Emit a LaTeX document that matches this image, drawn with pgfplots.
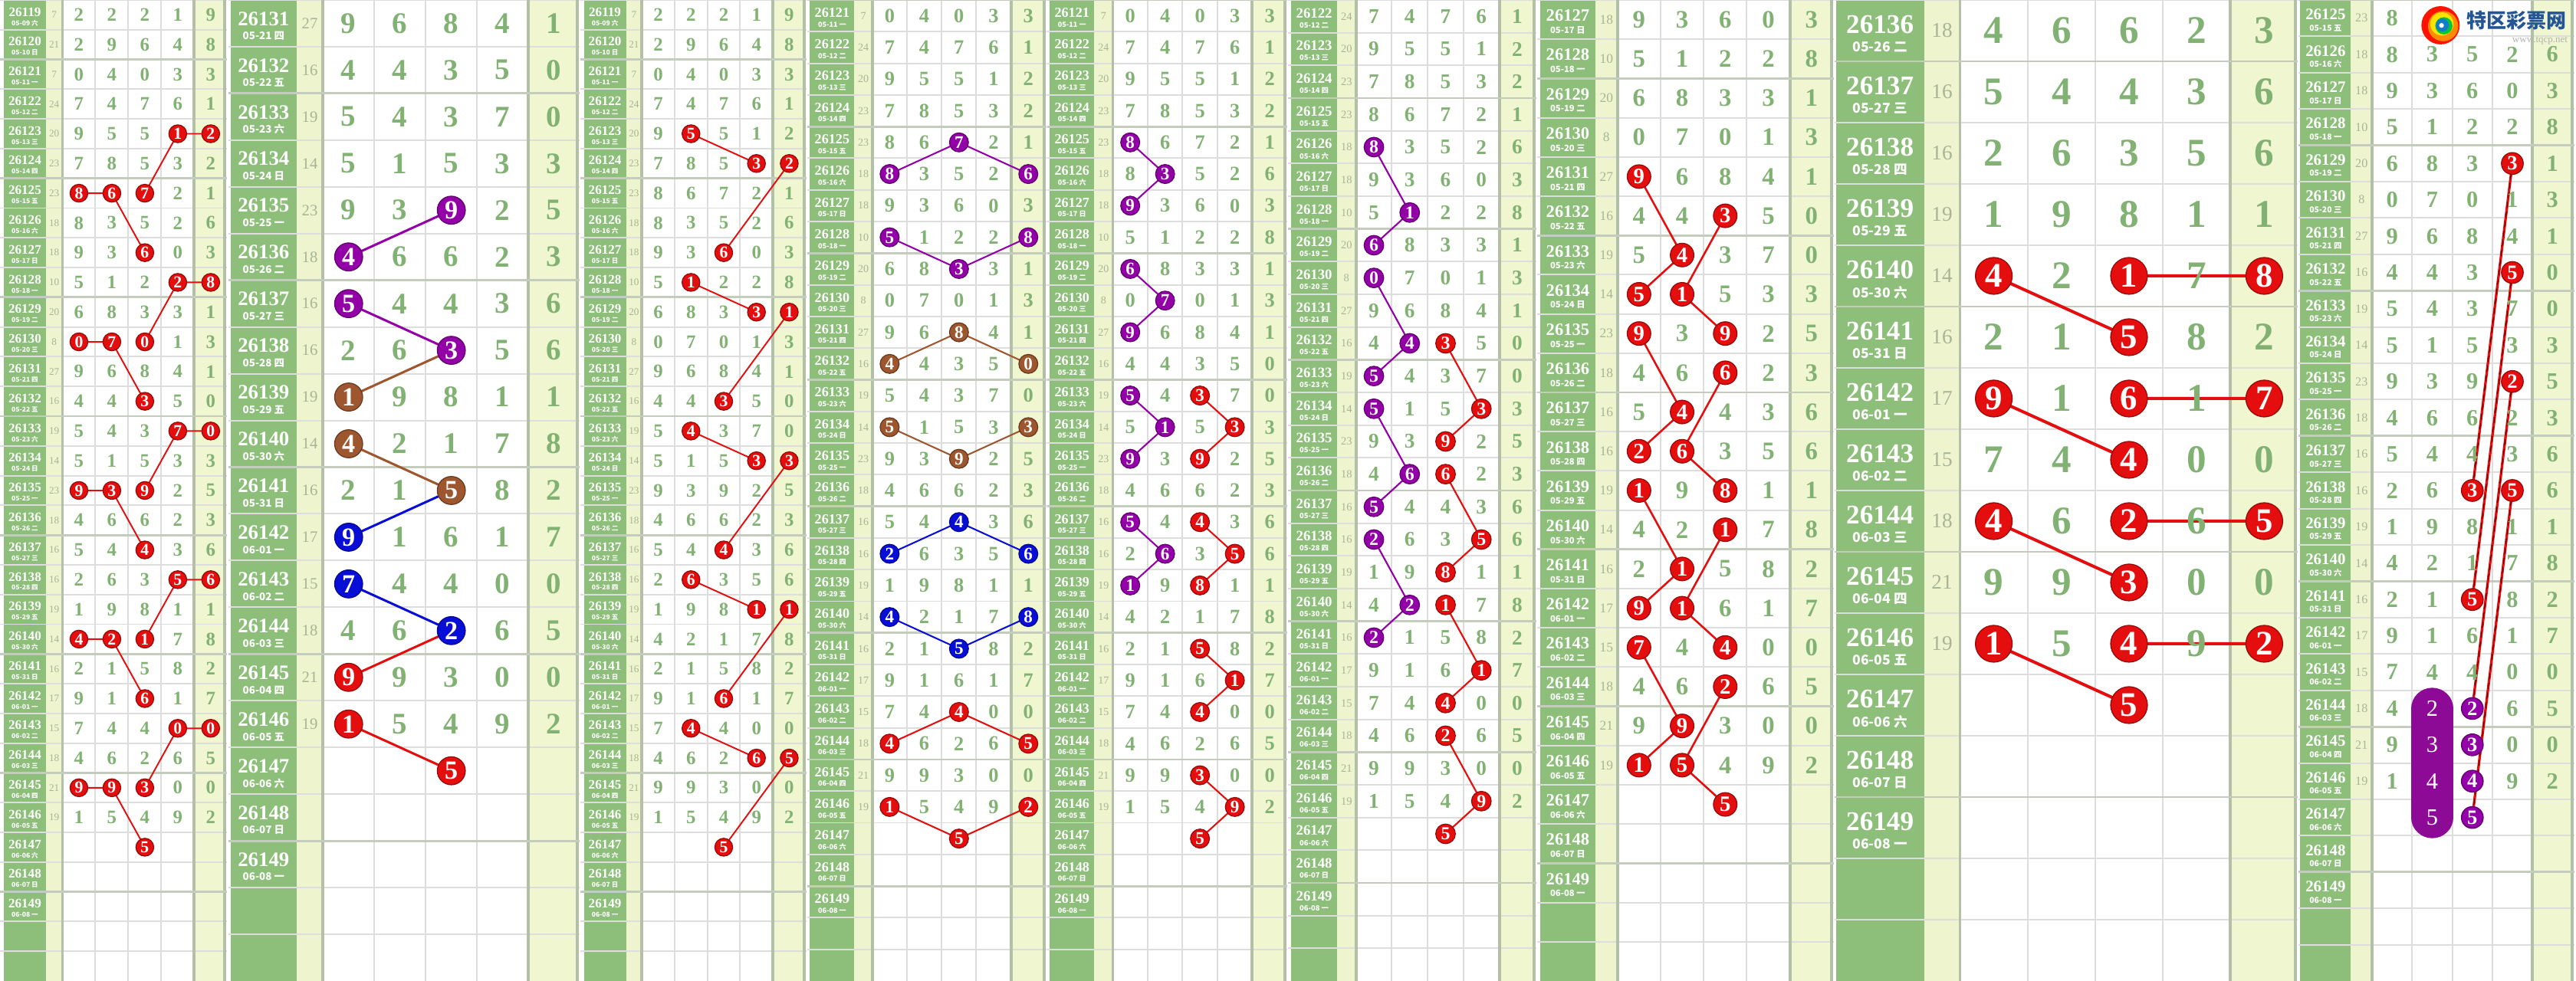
\documentclass[border=0pt]{standalone}
\usepackage{pgfplots}
\pgfplotsset{compat=1.18}
\usepackage{pgfplotstable}
\usepackage{fontspec}
\setmainfont{Liberation Serif}
\newfontfamily\cjk{Noto Sans CJK SC}

\definecolor{cgreen}{RGB}{141,190,122}
\definecolor{csum}{RGB}{238,245,206}
\definecolor{cfive}{RGB}{239,246,208}
\definecolor{cdig}{RGB}{130,178,115}
\definecolor{csumtxt}{RGB}{168,180,150}
\definecolor{cgrid}{RGB}{221,221,221}
\definecolor{cgrid2}{RGB}{196,204,190}
\definecolor{csep}{RGB}{178,192,168}
\definecolor{cred}{RGB}{228,14,14}
\definecolor{cpur}{RGB}{148,0,168}
\definecolor{cbrn}{RGB}{158,86,46}
\definecolor{cblu}{RGB}{8,14,214}
\definecolor{cbar}{RGB}{140,10,150}
\definecolor{clogo}{RGB}{36,86,150}

\pgfplotstableread{
i s a b c d e
26119 7 2 2 2 1 9
26120 21 2 9 6 4 8
26121 7 0 4 0 3 3
26122 24 7 4 7 6 1
26123 20 9 5 5 1 2
26124 23 7 8 5 3 2
26125 23 8 6 7 2 1
26126 18 8 3 5 2 6
26127 18 9 3 6 0 3
26128 10 5 1 2 2 8
26129 20 6 8 3 3 1
26130 8 0 7 0 1 3
26131 27 9 6 8 4 1
26132 16 4 4 3 5 0
26133 19 5 4 3 7 0
26134 14 5 1 5 3 3
26135 23 9 3 9 2 5
26136 18 4 6 6 2 3
26137 16 5 4 4 3 6
26138 16 2 6 3 5 6
26139 19 1 9 8 1 1
26140 14 4 2 1 7 8
26141 16 2 1 5 8 2
26142 17 9 1 6 1 7
26143 15 7 4 4 0 0
26144 18 4 6 2 6 5
26145 21 9 9 3 0 0
26146 19 1 5 4 9 2
}\draws

\pgfplotstableread[col sep=comma]{
i,dt
26119,05-09 六
26120,05-10 日
26121,05-11 一
26122,05-12 二
26123,05-13 三
26124,05-14 四
26125,05-15 五
26126,05-16 六
26127,05-17 日
26128,05-18 一
26129,05-19 二
26130,05-20 三
26131,05-21 四
26132,05-22 五
26133,05-23 六
26134,05-24 日
26135,05-25 一
26136,05-26 二
26137,05-27 三
26138,05-28 四
26139,05-29 五
26140,05-30 六
26141,05-31 日
26142,06-01 一
26143,06-02 二
26144,06-03 三
26145,06-04 四
26146,06-05 五
26147,06-06 六
26148,06-07 日
26149,06-08 一
}\dates

\pgfplotsset{
  panel/.style={scale only axis, height=12.8cm, y dir=reverse, set layers,
    axis line style={draw=none}, major tick length=0pt,
    xticklabels={}, yticklabels={},
    tick label style={inner sep=0pt, outer sep=0pt},
    xtick={1.5,2.5,3.5}, ytick={18.5,19.5,...,50.5},
    extra x tick labels={},
    extra x tick style={grid style={csep, line width=1.1pt}},
    extra y ticks={20.5,24.5,28.5,32.5,36.5,40.5,44.5,48.5}, extra y tick labels={},
    extra y tick style={grid style={cgrid2, line width=0.8pt}},
    xmajorgrids, ymajorgrids, grid style={cgrid, line width=0.55pt}},
  txt/.style={draw=none, mark=none, point meta=explicit symbolic, nodes near coords,
    every node near coord/.append style={anchor=center, inner sep=0pt, text=#1}},
  hl/.style={only marks, mark=*, mark size=\Prc pt,
    mark options={fill=#1, draw=#1!65!black, line width=0.35pt},
    point meta=explicit symbolic, nodes near coords,
    every node near coord/.append style={anchor=center, inner sep=0pt, text=white, font=\Fc}},
  ln/.style={draw=#1, line width=\Plw pt, mark=none, unbounded coords=jump},
  table/hh/.style={x=c, y expr=\thisrow{i}-26100, meta=v},
  table/hk/.style={x=c, y expr=\thisrow{i}-26100},
}

\def\bskip{0}
\def\bcut{100}
\newcommand\panelstart[8]{%
  \pgfmathsetmacro\Pxmn{1+(#1-#3)/#4}%
  \pgfmathsetmacro\Pxmx{1+(#2-#3)/#4}%
  \pgfmathsetmacro\Pxr{1+(#2-3-#3)/#4}%
  \pgfmathsetmacro\Pgl{1+(#5-#3)/#4}%
  \pgfmathsetmacro\Pgr{1+(#6-#3)/#4}%
  \pgfmathsetmacro\Pgc{(\Pgl+\Pgr)/2}%
  \pgfmathsetmacro\Pscx{(\Pgr+0.5)/2}%
  \pgfmathsetmacro\Pymn{#7-0.5}%
  \pgfmathsetmacro\Pymx{#7-0.5+#8}%
  \pgfmathsetmacro\Pybm{max(\Pymn,\bskip)}%
  \pgfmathsetmacro\Pbx{min(\Pymx,\bcut)}%
  \pgfmathsetmacro\Prow{1280/#8*0.284528}%
  \pgfmathsetmacro\Pfd{0.64*\Prow}%
  \pgfmathsetmacro\Pfi{0.44*\Prow}%
  \pgfmathsetmacro\Pfdt{0.22*\Prow}%
  \pgfmathsetmacro\Pfs{0.34*\Prow}%
  \pgfmathsetmacro\Pfc{0.56*\Prow}%
  \pgfmathsetmacro\Prc{0.30*\Prow}%
  \pgfmathsetmacro\Plw{0.05*\Prow}%
  \pgfmathsetmacro\PL{#1*0.01}%
  \pgfmathsetmacro\PW{(#2-#1)*0.01}%
  \edef\Fd{\noexpand\fontsize{\Pfd pt}{\Pfd pt}\noexpand\selectfont\noexpand\bfseries}%
  \edef\Fi{\noexpand\fontsize{\Pfi pt}{\Pfi pt}\noexpand\selectfont\noexpand\bfseries}%
  \edef\Fdt{\noexpand\cjk\noexpand\fontsize{\Pfdt pt}{\Pfdt pt}\noexpand\selectfont\noexpand\bfseries}%
  \edef\Fs{\noexpand\fontsize{\Pfs pt}{\Pfs pt}\noexpand\selectfont}%
  \edef\Fc{\noexpand\fontsize{\Pfc pt}{\Pfc pt}\noexpand\selectfont\noexpand\bfseries}%
  \begin{axis}[panel, at={(\PL cm,0cm)}, anchor=south west, width=\PW cm,
     xmin=\Pxmn, xmax=\Pxmx, ymin=\Pymn, ymax=\Pymx, extra x ticks={0.5,4.5,\Pxr}]
  \begin{pgfonlayer}{axis background}
    \fill[cgreen] (axis cs:\Pgl,\Pymn) rectangle (axis cs:\Pgr,\Pymx);
    \fill[csum] (axis cs:\Pgr,\Pymn) rectangle (axis cs:0.5,\Pymx);
    \fill[cfive] (axis cs:4.5,\Pymn) rectangle (axis cs:\Pxr,\Pymx);
  \end{pgfonlayer}
  \addplot[txt=csumtxt, every node near coord/.append style={font=\Fs}, restrict y to domain=\Pymn:\Pymx] table[x expr=\Pscx, y expr=\thisrow{i}-26100, meta=s]{\draws};
  \addplot[txt=white, every node near coord/.append style={font=\Fi}, restrict y to domain=\Pymn:\Pymx] table[x expr=\Pgc, y expr=\thisrow{i}-26100.1, meta=i]{\dates};
  \addplot[txt=white, every node near coord/.append style={font=\Fdt}, restrict y to domain=\Pymn:\Pymx] table[x expr=\Pgc, y expr=\thisrow{i}-26099.73, meta=dt]{\dates};
  \addplot[txt=cdig, every node near coord/.append style={font=\Fd}, restrict y to domain=\Pymn:\Pymx] table[x expr=1, y expr=\thisrow{i}-26100, meta=a]{\draws};
  \addplot[txt=cdig, every node near coord/.append style={font=\Fd}, restrict y to domain=\Pybm:\Pbx] table[x expr=2, y expr=\thisrow{i}-26100, meta=b]{\draws};
  \addplot[txt=cdig, every node near coord/.append style={font=\Fd}, restrict y to domain=\Pybm:\Pymx] table[x expr=3, y expr=\thisrow{i}-26100, meta=c]{\draws};
  \addplot[txt=cdig, every node near coord/.append style={font=\Fd}, restrict y to domain=\Pybm:\Pymx] table[x expr=4, y expr=\thisrow{i}-26100, meta=d]{\draws};
  \addplot[txt=cdig, every node near coord/.append style={font=\Fd}, restrict y to domain=\Pybm:\Pymx] table[x expr=5, y expr=\thisrow{i}-26100, meta=e]{\draws};
}

\begin{document}
\begin{tikzpicture}

% ---------------- Panel 1
\panelstart{0}{296}{103}{43}{5}{60}{19}{33}
\addplot[ln=cred] table[hk]{
c i
5 26123
4 26123
3 26125
nan nan
1 26125
2 26125
3 26127
nan nan
5 26128
4 26128
3 26130
nan nan
1 26130
2 26130
3 26132
nan nan
5 26133
4 26133
3 26135
nan nan
1 26135
2 26135
3 26137
nan nan
5 26138
4 26138
3 26140
nan nan
1 26140
2 26140
3 26142
nan nan
5 26143
4 26143
3 26145
nan nan
1 26145
2 26145
3 26147
};
\addplot[hl=cred] table[hh]{
c i v
4 26123 1
5 26123 2
1 26125 8
2 26125 6
3 26125 7
3 26127 6
4 26128 2
5 26128 8
1 26130 0
2 26130 7
3 26130 0
3 26132 3
4 26133 7
5 26133 0
1 26135 9
2 26135 3
3 26135 9
3 26137 4
4 26138 5
5 26138 6
1 26140 4
2 26140 2
3 26140 1
3 26142 6
4 26143 0
5 26143 0
1 26145 9
2 26145 9
3 26145 3
3 26147 5
};
\end{axis}

% ---------------- Panel 2
\panelstart{298}{756}{455}{67}{301}{387}{31}{21}
\addplot[ln=cpur] table[hk]{
c i
3 26135
1 26136
nan nan
1 26137
3 26138
};
\addplot[ln=cbrn] table[hk]{
c i
3 26138
1 26139
nan nan
1 26140
3 26141
};
\addplot[ln=cblu] table[hk]{
c i
3 26141
1 26142
nan nan
1 26143
3 26144
};
\addplot[ln=cred] table[hk]{
c i
3 26144
1 26145
nan nan
1 26146
3 26147
};
\addplot[hl=cpur] table[hh]{
c i v
3 26135 9
1 26136 4
1 26137 5
3 26138 3
};
\addplot[hl=cbrn] table[hh]{
c i v
1 26139 1
1 26140 4
3 26141 5
};
\addplot[hl=cblu] table[hh]{
c i v
1 26142 9
1 26143 7
3 26144 2
};
\addplot[hl=cred] table[hh]{
c i v
1 26145 9
1 26146 1
3 26147 5
};
\end{axis}

% ---------------- Panel 3
\panelstart{757}{1053}{859}{42.75}{762}{817}{19}{33}
\addplot[ln=cred] table[hk]{
c i
2 26123
4 26124
nan nan
5 26124
3 26127
nan nan
2 26128
4 26129
nan nan
5 26129
3 26132
nan nan
2 26133
4 26134
nan nan
5 26134
3 26137
nan nan
2 26138
4 26139
nan nan
5 26139
3 26142
nan nan
2 26143
4 26144
nan nan
5 26144
3 26147
};
\addplot[hl=cred] table[hh]{
c i v
2 26123 5
4 26124 3
5 26124 2
3 26127 6
2 26128 1
4 26129 3
5 26129 1
3 26132 3
2 26133 4
4 26134 3
5 26134 3
3 26137 4
2 26138 6
4 26139 1
5 26139 1
3 26142 6
2 26143 4
4 26144 6
5 26144 5
3 26147 5
};
\end{axis}

% ---------------- Panel 4
\panelstart{1054}{1366}{1161}{45.25}{1057}{1115}{21}{31}
\addplot[ln=cpur] table[hk]{
c i
1 26126
3 26125
5 26126
nan nan
1 26128
3 26129
5 26128
};
\addplot[ln=cbrn] table[hk]{
c i
1 26132
3 26131
5 26132
nan nan
1 26134
3 26135
5 26134
};
\addplot[ln=cblu] table[hk]{
c i
1 26138
3 26137
5 26138
nan nan
1 26140
3 26141
5 26140
};
\addplot[ln=cred] table[hk]{
c i
1 26144
3 26143
5 26144
nan nan
1 26146
3 26147
5 26146
};
\addplot[hl=cpur] table[hh]{
c i v
1 26126 8
3 26125 7
5 26126 6
1 26128 5
3 26129 3
5 26128 8
};
\addplot[hl=cbrn] table[hh]{
c i v
1 26132 4
3 26131 8
5 26132 0
1 26134 5
3 26135 9
5 26134 3
};
\addplot[hl=cblu] table[hh]{
c i v
1 26138 2
3 26137 4
5 26138 6
1 26140 4
3 26141 5
5 26140 8
};
\addplot[hl=cred] table[hh]{
c i v
1 26144 4
3 26143 4
5 26144 5
1 26146 1
3 26147 5
5 26146 2
};
\end{axis}

% ---------------- Panel 5
\panelstart{1367}{1680}{1475}{45.5}{1370}{1428}{21}{31}
\addplot[ln=cpur] table[hk]{
c i
1 26125
2 26126
1 26127
nan nan
1 26129
2 26130
1 26131
nan nan
1 26133
2 26134
1 26135
nan nan
1 26137
2 26138
1 26139
};
\addplot[ln=cred] table[hk]{
c i
3 26133
4 26134
3 26135
nan nan
3 26137
4 26138
3 26139
nan nan
3 26141
4 26142
3 26143
nan nan
3 26145
4 26146
3 26147
};
\addplot[hl=cpur] table[hh]{
c i v
1 26125 8
2 26126 3
1 26127 9
1 26129 6
2 26130 7
1 26131 9
1 26133 5
2 26134 1
1 26135 9
1 26137 5
2 26138 6
1 26139 1
};
\addplot[hl=cred] table[hh]{
c i v
3 26133 3
4 26134 3
3 26135 9
3 26137 4
4 26138 5
3 26139 8
3 26141 5
4 26142 1
3 26143 4
3 26145 3
4 26146 9
3 26147 5
};
\end{axis}

% ---------------- Panel 6
\panelstart{1681}{2005}{1793}{46.75}{1685}{1745}{22}{30}
\addplot[ln=cpur] table[hk]{
c i
1 26126
2 26128
1 26129
nan nan
1 26130
2 26132
1 26133
nan nan
1 26134
2 26136
1 26137
nan nan
1 26138
2 26140
1 26141
};
\addplot[ln=cred] table[hk]{
c i
3 26132
4 26134
3 26135
nan nan
3 26136
4 26138
3 26139
nan nan
3 26140
4 26142
3 26143
nan nan
3 26144
4 26146
3 26147
};
\addplot[hl=cpur] table[hh]{
c i v
1 26126 8
2 26128 1
1 26129 6
1 26130 0
2 26132 4
1 26133 5
1 26134 5
2 26136 6
1 26137 5
1 26138 2
2 26140 2
1 26141 2
};
\addplot[hl=cred] table[hh]{
c i v
3 26132 3
4 26134 3
3 26135 9
3 26136 6
4 26138 5
3 26139 8
3 26140 1
4 26142 1
3 26143 4
3 26144 2
4 26146 9
3 26147 5
};
\end{axis}

% ---------------- Panel 7
\panelstart{2006}{2393}{2139}{56.25}{2010}{2082}{27}{25}
\addplot[ln=cred] table[hk]{
c i
1 26131
2 26133
1 26134
nan nan
3 26132
2 26134
3 26135
nan nan
1 26135
2 26137
1 26138
nan nan
3 26136
2 26138
3 26139
nan nan
1 26139
2 26141
1 26142
nan nan
3 26140
2 26142
3 26143
nan nan
1 26143
2 26145
1 26146
nan nan
3 26144
2 26146
3 26147
};
\addplot[hl=cred] table[hh]{
c i v
1 26131 9
2 26133 4
1 26134 5
3 26132 3
2 26134 1
3 26135 9
1 26135 9
2 26137 4
1 26138 2
3 26136 6
2 26138 6
3 26139 8
1 26139 1
2 26141 1
1 26142 9
3 26140 1
2 26142 1
3 26143 4
1 26143 7
2 26145 9
1 26146 1
3 26144 2
2 26146 5
3 26147 5
};
\end{axis}

% ---------------- Panel 8
\panelstart{2394}{2999}{2602}{88.25}{2396}{2511}{36}{16}
\addplot[ln=cred] table[hk]{
c i
1 26140
3 26141
nan nan
3 26140
5 26140
nan nan
1 26142
3 26143
nan nan
3 26142
5 26142
nan nan
1 26144
3 26145
nan nan
3 26144
5 26144
nan nan
1 26146
3 26147
nan nan
3 26146
5 26146
};
\addplot[hl=cred] table[hh]{
c i v
1 26140 4
3 26140 1
5 26140 8
3 26141 5
1 26142 9
3 26142 6
5 26142 7
3 26143 4
1 26144 4
3 26144 2
5 26144 5
3 26145 3
1 26146 1
3 26146 4
5 26146 2
3 26147 5
};
\end{axis}

% ---------------- Panel 9
\def\bskip{25.5}
\def\bcut{43.5}
\panelstart{3000}{3360}{3122}{52.25}{3002}{3068}{25}{27}
\addplot[draw=cred, line width=1.4*\Plw pt, mark=none, unbounded coords=jump] table[hk]{
c i
4 26129
3 26138
nan nan
4 26132
3 26141
nan nan
4 26135
3 26144
nan nan
4 26138
3 26147
};
\addplot[draw=black!50!red, line width=0.4pt, dash pattern=on 2.2pt off 1.4pt, mark=none, unbounded coords=jump] table[hk]{
c i
4 26129
3 26138
nan nan
4 26132
3 26141
nan nan
4 26135
3 26144
nan nan
4 26138
3 26147
};
\addplot[draw=cbar, line width=15.4pt, line cap=round, mark=none] table[hk]{
c i
2 26144
2 26147
};
\addplot[txt=white, every node near coord/.append style={font=\Fd\mdseries}] table[hh]{
c i v
2 26144 2
2 26145 3
2 26146 4
2 26147 5
};
\addplot[hl=cred] table[hh]{
c i v
4 26129 3
4 26132 5
4 26135 2
4 26138 5
3 26138 3
3 26141 5
};
\addplot[hl=cpur] table[hh]{
c i v
3 26144 2
3 26145 3
3 26146 4
3 26147 5
};
\fill[red!85!orange] (axis cs:2.206,25.196) circle[radius=7.1pt];
\fill[orange!90!yellow] (axis cs:2.27,25.22) circle[radius=5.6pt];
\fill[yellow!85!orange] (axis cs:2.24,25.16) circle[radius=4.3pt];
\fill[green!55!teal] (axis cs:2.29,25.21) circle[radius=3.2pt];
\fill[cyan!60!blue] (axis cs:2.25,25.19) circle[radius=2.4pt];
\fill[white] (axis cs:2.23,25.2) circle[radius=0.9pt];
\node[font=\cjk\bfseries\fontsize{7.4pt}{7.4pt}\selectfont, text=clogo, inner sep=0pt] at (axis cs:4.10,25.07) {特区彩票网};
\node[font=\fontsize{3.7pt}{3.7pt}\selectfont, text=black!30, inner sep=0pt] at (axis cs:4.69,25.62) {www.tqcp.net};
\end{axis}

\pgfresetboundingbox
\path (0,0) rectangle (33.6cm,12.8cm);
\end{tikzpicture}
\end{document}
